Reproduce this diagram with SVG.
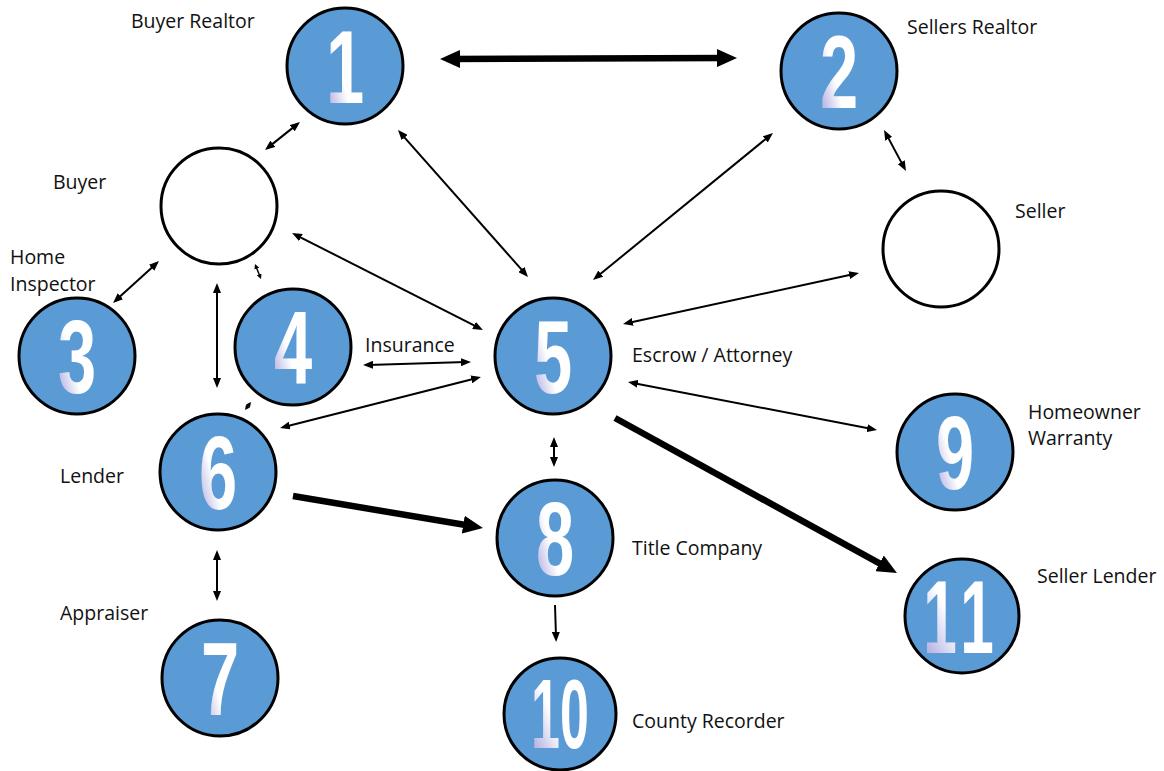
<svg xmlns="http://www.w3.org/2000/svg" width="1164" height="771" viewBox="0 0 1164 771">
<style>
.c{fill:#5b9bd5;stroke:#000;stroke-width:3}
.w{fill:#fff;stroke:#000;stroke-width:3}
.n{font-family:"Liberation Sans",Arial,sans-serif;font-weight:bold;font-size:104px;fill:url(#g);text-anchor:middle}
.l{font-family:"Open Sans","Liberation Sans",sans-serif;font-size:19.5px;fill:#111}
.t{stroke:#000;stroke-width:2;fill:none;marker-start:url(#a);marker-end:url(#a)}
.s{stroke:#000;stroke-width:1.5;fill:none;marker-start:url(#s);marker-end:url(#s)}
.k{stroke:#000;stroke-width:6.5;fill:none}
</style>
<defs>
<linearGradient id="g" x1="0" y1="0.9" x2="0.75" y2="0.3">
<stop offset="0" stop-color="#a29fdc"/>
<stop offset="0.55" stop-color="#fff"/>
<stop offset="1" stop-color="#fff"/>
</linearGradient>
<marker id="a" viewBox="0 0 10 8" refX="5" refY="4" markerWidth="10" markerHeight="8" orient="auto-start-reverse" markerUnits="userSpaceOnUse"><path d="M0,0L10,4L0,8z"/></marker>
<marker id="s" viewBox="0 0 5 5" refX="2.5" refY="2.5" markerWidth="5" markerHeight="5" orient="auto-start-reverse" markerUnits="userSpaceOnUse"><path d="M0,0L5,2.5L0,5z"/></marker>
<marker id="K" viewBox="0 0 20 18" refX="10" refY="9" markerWidth="20" markerHeight="18" orient="auto-start-reverse" markerUnits="userSpaceOnUse"><path d="M0,0L20,9L0,18z"/></marker>
</defs>
<rect width="1164" height="771" fill="#fff"/>
<g id="connectors">
<line class="t" x1="268.9" y1="146.9" x2="296.1" y2="125.1"/>
<line class="t" x1="401.3" y1="133.8" x2="524.7" y2="273.2"/>
<line class="t" x1="596.9" y1="276.8" x2="769.1" y2="136.2"/>
<line class="t" x1="886.4" y1="134.4" x2="903.6" y2="166.6"/>
<line class="t" x1="296.5" y1="235.3" x2="478.5" y2="327.7"/>
<line class="t" x1="627.9" y1="322.9" x2="854.1" y2="274.1"/>
<line class="t" x1="155.3" y1="264.4" x2="116.7" y2="299.6"/>
<line class="s" x1="255.9" y1="266.3" x2="260.1" y2="276.7"/>
<line class="t" x1="217" y1="288" x2="217" y2="383"/>
<line class="t" x1="368" y1="364.9" x2="466" y2="362.1"/>
<line class="t" x1="284.9" y1="426.8" x2="476.1" y2="378.2"/>
<line class="s" x1="246.5" y1="408" x2="249.5" y2="404"/>
<line class="t" x1="632.9" y1="382.9" x2="872.1" y2="429.1"/>
<line class="t" x1="554" y1="442" x2="554" y2="462"/>
<line class="t" x1="555" y1="605" x2="556" y2="637" style="marker-start:none"/>
<line class="t" x1="217" y1="555" x2="217" y2="596"/>
<line class="k" x1="450" y1="59" x2="727" y2="58" marker-start="url(#K)" marker-end="url(#K)"/>
<line class="k" x1="615" y1="418" x2="888.2" y2="568.2" marker-end="url(#K)"/>
<line class="k" x1="293" y1="496" x2="473.1" y2="526.3" marker-end="url(#K)"/>
</g>
<g id="n1"><circle class="c" cx="345" cy="66" r="58"/><text class="n" transform="translate(345,103) scale(0.66,1)">1</text><text class="l" x="131" y="28">Buyer Realtor</text></g>
<g id="n2"><circle class="c" cx="839" cy="71" r="58"/><text class="n" transform="translate(839,108) scale(0.66,1)">2</text><text class="l" x="907" y="34">Sellers Realtor</text></g>
<g id="buyer"><circle class="w" cx="219" cy="206" r="58"/><text class="l" x="53" y="189">Buyer</text></g>
<g id="seller"><circle class="w" cx="941" cy="249" r="58"/><text class="l" x="1015" y="218">Seller</text></g>
<g id="n3"><circle class="c" cx="77" cy="356" r="58"/><text class="n" transform="translate(77,393) scale(0.66,1)">3</text><text class="l" x="10" y="264">Home</text><text class="l" x="10" y="291">Inspector</text></g>
<g id="n4"><circle class="c" cx="293" cy="347" r="58"/><text class="n" transform="translate(293,384) scale(0.66,1)">4</text><text class="l" x="365" y="352">Insurance</text></g>
<g id="n5"><circle class="c" cx="553" cy="356" r="58"/><text class="n" transform="translate(553,393) scale(0.66,1)">5</text><text class="l" x="632" y="362">Escrow / Attorney</text></g>
<g id="n6"><circle class="c" cx="218" cy="472" r="58"/><text class="n" transform="translate(218,509) scale(0.66,1)">6</text><text class="l" x="60" y="483">Lender</text></g>
<g id="n7"><circle class="c" cx="220" cy="678" r="58"/><text class="n" transform="translate(220,715) scale(0.66,1)">7</text><text class="l" x="60" y="620">Appraiser</text></g>
<g id="n8"><circle class="c" cx="555" cy="538" r="58"/><text class="n" transform="translate(555,575) scale(0.66,1)">8</text><text class="l" x="632" y="555">Title Company</text></g>
<g id="n9"><circle class="c" cx="955" cy="452" r="58"/><text class="n" transform="translate(955,489) scale(0.66,1)">9</text><text class="l" x="1028" y="419">Homeowner</text><text class="l" x="1028" y="445">Warranty</text></g>
<g id="n10"><circle class="c" cx="560" cy="714" r="56"/><text class="n" transform="translate(560,748) scale(0.53,1)" style="font-size:98px">10</text><text class="l" x="632" y="728">County Recorder</text></g>
<g id="n11"><circle class="c" cx="962" cy="616" r="57"/><text class="n" transform="translate(962,653) scale(0.58,1)" letter-spacing="12">11</text><text class="l" x="1037" y="583">Seller Lender</text></g>
</svg>
